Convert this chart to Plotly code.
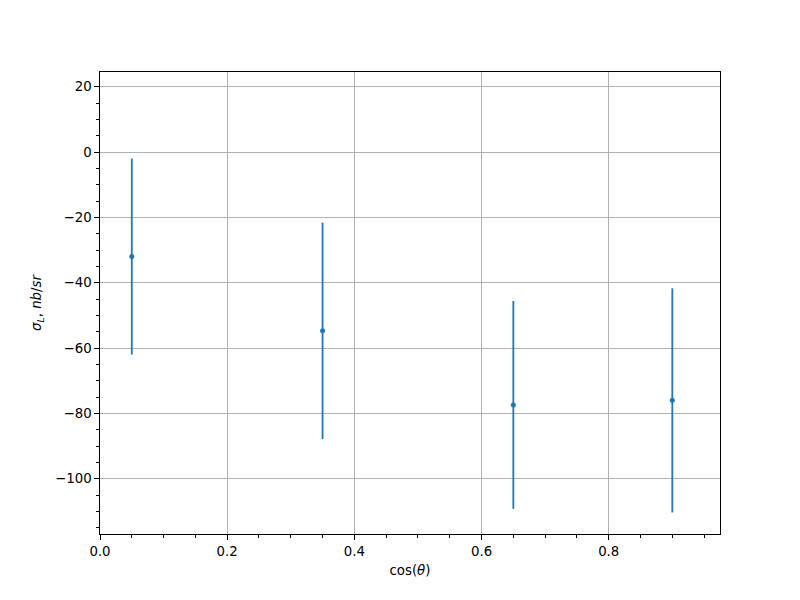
import plotly.graph_objects as go

cos_theta = [0.05, 0.35, 0.65, 0.9]
sigma_L = [-32.0, -54.7, -77.4, -76.0]
sigma_err = [30.0, 33.1, 31.8, 34.3]

fig = go.Figure()
fig.add_trace(go.Scatter(
    x=cos_theta, y=sigma_L, mode="markers",
    marker=dict(color="#1f77b4", size=5),
    error_y=dict(type="data", array=sigma_err, visible=True,
                 color="#1f77b4", thickness=1.8, width=0),
    showlegend=False,
))

axis_common = dict(
    showline=True, linecolor="black", linewidth=1, mirror=True,
    ticks="outside", ticklen=4.7, tickwidth=1, tickcolor="black",
    showgrid=True, gridcolor="#b0b0b0", gridwidth=1,
    zeroline=False, automargin=False,
    tickfont=dict(family="DejaVu Sans", size=13.3, color="black"),
)

fig.update_xaxes(
    range=[0, 0.975], tickmode="linear", tick0=0, dtick=0.2,
    tickformat=".1f",
    minor=dict(ticks="outside", ticklen=2.7, tickwidth=1, tickcolor="black",
               dtick=0.05, tick0=0, showgrid=False),
    title=dict(text="cos(<i>θ</i>)", font=dict(family="DejaVu Sans", size=13.3, color="black"), standoff=8),
    **axis_common,
)
fig.update_yaxes(
    range=[-116.9, 24.5], tickmode="linear", tick0=0, dtick=20,
    minor=dict(ticks="outside", ticklen=2.7, tickwidth=1, tickcolor="black",
               dtick=5, tick0=0, showgrid=False),
    title=dict(text="<i>σ<sub>L</sub></i>, <i>nb</i>/<i>sr</i>", font=dict(family="DejaVu Sans", size=13.3, color="black"), standoff=10),
    **axis_common,
)

fig.update_layout(
    width=800, height=600,
    margin=dict(l=92, r=88, t=64, b=74),
    plot_bgcolor="white", paper_bgcolor="white",
    font=dict(family="DejaVu Sans", color="black"),
)

fig.write_html("out.html")
